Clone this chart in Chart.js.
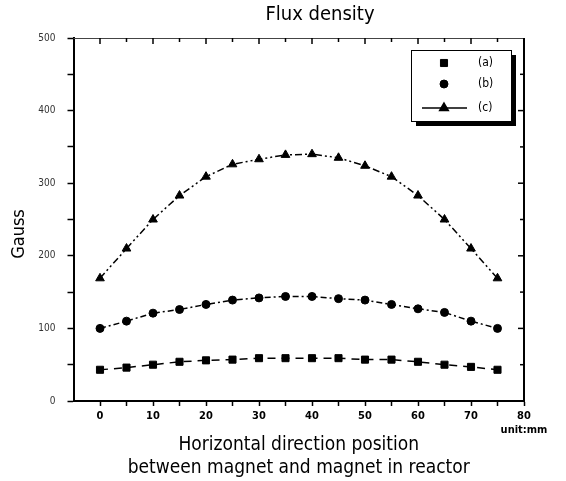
<!DOCTYPE html>
<html>
<head>
<meta charset="utf-8">
<script src="https://cdn.jsdelivr.net/npm/chart.js@4"></script>
<style>
 body { margin: 0; background: #fff; }
 #wrap { width: 566px; height: 481px; }
</style>
</head>
<body>
<div id="wrap"><canvas id="fluxChart" width="566" height="481"></canvas></div>
<script>
// positions along the reactor (mm)
var positions = [0, 5, 10, 15, 20, 25, 30, 35, 40, 45, 50, 55, 60, 65, 70, 75];
// flux density, Gauss
var seriesA = [43, 46, 50, 54, 56, 57, 59, 59, 59, 59, 57, 57, 54, 50, 47, 43];
var seriesB = [100, 110, 121, 126, 133, 139, 142, 144, 144, 141, 139, 133, 127, 122, 110, 100];
var seriesC = [169, 210, 250, 283, 309, 326, 333, 339, 340, 335, 324, 309, 283, 250, 210, 169];
var seriesLabels = ["(a)", "(b)", "(c)"];
var xTickLabels = [0, 10, 20, 30, 40, 50, 60, 70, 80];
var yTickLabels = [0, 100, 200, 300, 400, 500];

var narrowFont = '"Liberation Sans Narrow", "DejaVu Sans Condensed", "DejaVu Sans", sans-serif';
Chart.defaults.font.family = narrowFont;
Chart.defaults.color = "#000";

function toPoints(values) {
 return values.map(function (v, i) {
  return { x: positions[i], y: v };
 });
}

// frame, inward ticks on top/right, titles and the boxed legend
var framePlugin = {
 id: "framePlugin",
 afterDraw: function (chart) {
  var ctx = chart.ctx;
  var area = chart.chartArea;
  var xs = chart.scales.x;
  var ys = chart.scales.y;
  ctx.save();

  // top and right sides
  ctx.lineWidth = 1;
  ctx.strokeStyle = "#444";
  ctx.beginPath();
  ctx.moveTo(area.left, area.top + 0.5);
  ctx.lineTo(area.right, area.top + 0.5);
  ctx.stroke();
  ctx.strokeStyle = "#000";
  ctx.lineWidth = 2;
  ctx.beginPath();
  ctx.moveTo(area.right, area.top);
  ctx.lineTo(area.right, area.bottom);
  ctx.stroke();

  // inward ticks
  ctx.lineWidth = 1.5;
  for (var v = 0; v <= 80; v += 5) {
   var px = xs.getPixelForValue(v);
   ctx.beginPath();
   ctx.moveTo(px, area.top);
   ctx.lineTo(px, area.top + (v % 10 === 0 ? 6 : 4));
   ctx.stroke();
  }
  for (var g = 50; g < 500; g += 50) {
   var py = ys.getPixelForValue(g);
   ctx.beginPath();
   ctx.moveTo(area.right, py);
   ctx.lineTo(area.right - (g % 100 === 0 ? 6 : 4), py);
   ctx.stroke();
  }

  // title
  ctx.fillStyle = "#000";
  ctx.font = "20px " + narrowFont;
  ctx.textAlign = "center";
  ctx.textBaseline = "middle";
  ctx.fillText("Flux density", 320, 15);

  // y axis title
  ctx.save();
  ctx.translate(19, 234);
  ctx.rotate(-Math.PI / 2);
  ctx.font = "18px " + narrowFont;
  ctx.fillText("Gauss", 0, 0);
  ctx.restore();

  // legend box with shadow
  var bx = 411, by = 50, bw = 100, bh = 71;
  ctx.fillStyle = "#000";
  ctx.fillRect(bx + 5, by + 5, bw, bh);
  ctx.fillStyle = "#fff";
  ctx.fillRect(bx, by, bw, bh);
  ctx.lineWidth = 1;
  ctx.strokeStyle = "#000";
  ctx.strokeRect(bx + 0.5, by + 0.5, bw, bh);

  var rowsY = [63, 84, 108];
  ctx.font = "12px " + narrowFont;
  ctx.textAlign = "left";
  chart.data.datasets.forEach(function (ds, i) {
   ctx.fillStyle = "#000";
   ctx.strokeStyle = "#000";
   if (ds.showLegendLine) {
    ctx.lineWidth = 1.5;
    ctx.beginPath();
    ctx.moveTo(422, rowsY[i]);
    ctx.lineTo(467, rowsY[i]);
    ctx.stroke();
   }
   Chart.helpers.drawPoint(ctx, {
    pointStyle: ds.pointStyle,
    radius: ds.pointRadius,
    borderWidth: 1,
    rotation: 0,
   }, 444, rowsY[i]);
   ctx.fillStyle = "#000";
   ctx.fillText(ds.label, 478, rowsY[i]);
  });
  ctx.restore();
 },
};

var commonDs = {
 borderColor: "#000",
 backgroundColor: "#000",
 pointBorderColor: "#000",
 pointBackgroundColor: "#000",
 borderWidth: 1.5,
 pointBorderWidth: 1,
 fill: false,
 tension: 0,
};

new Chart(document.getElementById("fluxChart"), {
 type: "line",
 data: {
  datasets: [
   Object.assign({}, commonDs, {
    label: seriesLabels[0],
    data: toPoints(seriesA),
    pointStyle: "rect",
    pointRadius: 5,
    borderDash: [8, 6],
   }),
   Object.assign({}, commonDs, {
    label: seriesLabels[1],
    data: toPoints(seriesB),
    pointStyle: "circle",
    pointRadius: 4,
    borderDash: [6, 3, 2, 3],
   }),
   Object.assign({}, commonDs, {
    label: seriesLabels[2],
    data: toPoints(seriesC),
    pointStyle: "triangle",
    pointRadius: 5,
    borderDash: [7, 3, 2, 3, 2, 3],
    showLegendLine: true,
   }),
  ],
 },
 options: {
  responsive: false,
  animation: false,
  layout: {
   padding: { top: 38, right: 42, left: 0, bottom: 0 },
  },
  plugins: {
   legend: { display: false },
   title: { display: false },
   tooltip: { enabled: false },
  },
  scales: {
   x: {
    type: "linear",
    min: -5,
    max: 80,
    afterFit: function (scale) {
     scale.height = 80;
    },
    afterBuildTicks: function (scale) {
     var ticks = [];
     for (var v = 0; v <= 80; v += 5) ticks.push({ value: v });
     scale.ticks = ticks;
    },
    ticks: {
     autoSkip: false,
     maxRotation: 0,
     padding: 4,
     font: { size: 11, weight: "bold" },
     callback: function (value) {
      if (xTickLabels.indexOf(value) < 0) return "";
      return value === 80 ? ["80", "unit:mm"] : String(value);
     },
    },
    grid: {
     drawOnChartArea: false,
     tickLength: 5,
     color: "#000",
     tickWidth: 1.5,
    },
    border: { color: "#000", width: 2 },
    title: {
     display: true,
     text: ["Horizontal direction position", "between magnet and magnet in reactor"],
     font: { size: 19 },
     padding: { top: 0, bottom: 2 },
    },
   },
   y: {
    min: 0,
    max: 500,
    afterFit: function (scale) {
     scale.width = 73.5;
    },
    ticks: {
     stepSize: 50,
     padding: 12,
     color: "#333",
     font: { size: 10 },
     callback: function (value) {
      return yTickLabels.indexOf(value) < 0 ? "" : String(value);
     },
    },
    grid: {
     drawOnChartArea: false,
     tickLength: 6,
     color: "#000",
     tickWidth: 1.5,
    },
    border: { color: "#000", width: 2 },
    title: { display: false },
   },
  },
 },
 plugins: [framePlugin],
});
</script>
</body>
</html>
